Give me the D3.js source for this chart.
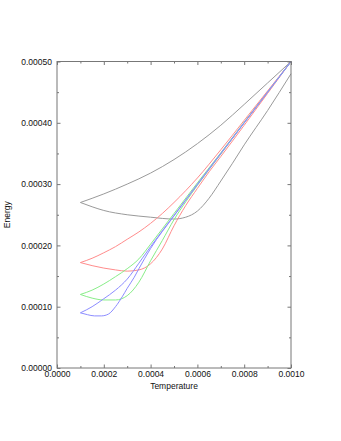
<!DOCTYPE html>
<html>
<head>
<meta charset="utf-8">
<script src="https://cdn.jsdelivr.net/npm/d3@7"></script>
<style>
  html, body { margin: 0; padding: 0; background: #fff; }
  svg { display: block; }
  .axis text { font-family: "Liberation Sans", Arial, Helvetica, sans-serif; font-size: 8.5px; fill: #111; }
  .axis path { display: none; }
  .axis line { stroke: #777; stroke-width: 1; }
  .label { font-family: "Liberation Sans", Arial, Helvetica, sans-serif; font-size: 8.5px; fill: #111; }
</style>
</head>
<body>
<svg id="chart" width="341" height="441"></svg>
<script>
// ─── Data (Temperature, Energy) ───
const xMajor = [0, 0.0002, 0.0004, 0.0006, 0.0008, 0.0010];
const xMinor = [0.0001, 0.0003, 0.0005, 0.0007, 0.0009];
const yMajor = [0, 0.0001, 0.0002, 0.0003, 0.0004, 0.0005];
const yMinor = [0.00005, 0.00015, 0.00025, 0.00035, 0.00045];

const grayUpper = [[0.0001,0.000270],[0.0002,0.000284],[0.0003,0.000300],[0.0004,0.000318],[0.0005,0.000340],
  [0.0006,0.000366],[0.0007,0.000396],[0.0008,0.000430],[0.0009,0.000465],[0.0010,0.000500]];
const grayLower = [[0.0001,0.000270],[0.00015,0.000263],[0.0002,0.000257],[0.0003,0.000250],[0.0004,0.000246],
  [0.00045,0.000244],[0.0005,0.000243],[0.00055,0.000246],[0.0006,0.000256],[0.00065,0.000277],[0.0007,0.000305],
  [0.00075,0.000334],[0.0008,0.000364],[0.0009,0.000420],[0.0010,0.000480]];

const redUpper = [[0.0001,0.000172],[0.00015,0.000179],[0.0002,0.000188],[0.00025,0.000198],[0.0003,0.000210],
  [0.00035,0.000222],[0.0004,0.000236],[0.00045,0.000252],[0.0005,0.000270],[0.0006,0.000310],[0.0007,0.000356],
  [0.0008,0.000404],[0.0009,0.000452],[0.0010,0.000500]];
const redLower = [[0.0001,0.000172],[0.00015,0.000167],[0.0002,0.000163],[0.00025,0.000160],[0.0003,0.000158],
  [0.00035,0.000160],[0.0004,0.000170],[0.00045,0.000194],[0.0005,0.000232],[0.00055,0.000265],[0.0006,0.000293],
  [0.00065,0.000320],[0.0007,0.000345],[0.0008,0.000396],[0.0009,0.000448],[0.0010,0.000500]];

const greenUpper = [[0.0001,0.000120],[0.00015,0.000127],[0.0002,0.000137],[0.00025,0.000149],[0.0003,0.000162],
  [0.00035,0.000178],[0.0004,0.000202],[0.00045,0.000227],[0.0005,0.000252],[0.0006,0.000302],[0.0007,0.000351],
  [0.0008,0.000401],[0.0009,0.000450],[0.0010,0.000500]];
const greenLower = [[0.0001,0.000120],[0.00015,0.000114],[0.0002,0.000111],[0.00025,0.000111],[0.0003,0.000118],
  [0.00035,0.000140],[0.0004,0.000175],[0.00045,0.000208],[0.0005,0.000242],[0.00055,0.000271],[0.0006,0.000298],
  [0.0007,0.000349],[0.0008,0.000400],[0.0009,0.000450],[0.0010,0.000500]];

const blueUpper = [[0.0001,0.000090],[0.00015,0.000100],[0.0002,0.000113],[0.00025,0.000127],[0.0003,0.000145],
  [0.00035,0.000171],[0.0004,0.000198],[0.0005,0.000249],[0.0006,0.000300],[0.0008,0.000400],[0.0010,0.000500]];
const blueLower = [[0.0001,0.000090],[0.00013,0.000087],[0.00016,0.000085],[0.00019,0.000085],[0.00022,0.000088],
  [0.00025,0.000100],[0.00028,0.000117],[0.0003,0.000130],[0.00033,0.000148],[0.00035,0.000162],[0.0004,0.000195],
  [0.0005,0.000248],[0.0006,0.000299],[0.0008,0.000400],[0.0010,0.000500]];

const series = [
  { pts: grayUpper,  color: '#9a9a9a' },
  { pts: grayLower,  color: '#9a9a9a' },
  { pts: redUpper,   color: '#ff8c8c' },
  { pts: redLower,   color: '#ff8c8c' },
  { pts: greenUpper, color: '#88ee88' },
  { pts: greenLower, color: '#88ee88' },
  { pts: blueUpper,  color: '#8c8cff' },
  { pts: blueLower,  color: '#8c8cff' }
];

// ─── Layout ─────────────────────────────────
const L = 57, R = 291, T = 61.5, B = 368;
const svg = d3.select('#chart');
svg.append('rect').attr('width', 341).attr('height', 441).attr('fill', '#fff');

const x = d3.scaleLinear().domain([0, 0.001]).range([L, R]);
const y = d3.scaleLinear().domain([0, 0.0005]).range([B, T]);

// ─── Curves ─────────────────────────────────
const line = d3.line().x(d => x(d[0])).y(d => y(d[1])).curve(d3.curveMonotoneX);
svg.append('g').selectAll('path')
  .data(series)
  .enter().append('path')
    .attr('d', d => line(d.pts))
    .attr('fill', 'none')
    .attr('stroke', d => d.color)
    .attr('stroke-width', 1);

// ─── Axes ───────────────────────────────────
function axis(gen, tr) {
  return svg.append('g').attr('class', 'axis').attr('transform', tr).call(gen);
}
// bottom
axis(d3.axisBottom(x).tickValues(xMajor).tickSize(-3.5).tickPadding(3).tickFormat(d3.format('.4f')), `translate(0,${B})`);
axis(d3.axisBottom(x).tickValues(xMinor).tickSize(-2).tickFormat(''), `translate(0,${B})`);
// top
axis(d3.axisTop(x).tickValues(xMajor).tickSize(-3.5).tickFormat(''), `translate(0,${T})`);
axis(d3.axisTop(x).tickValues(xMinor).tickSize(-2).tickFormat(''), `translate(0,${T})`);
// left
axis(d3.axisLeft(y).tickValues(yMajor).tickSize(-3.5).tickPadding(5).tickFormat(d3.format('.5f')), `translate(${L},0)`);
axis(d3.axisLeft(y).tickValues(yMinor).tickSize(-2).tickFormat(''), `translate(${L},0)`);
// right
axis(d3.axisRight(y).tickValues(yMajor).tickSize(-3.5).tickFormat(''), `translate(${R},0)`);
axis(d3.axisRight(y).tickValues(yMinor).tickSize(-2).tickFormat(''), `translate(${R},0)`);

// frame
svg.append('rect')
  .attr('x', L).attr('y', T).attr('width', R - L).attr('height', B - T)
  .attr('fill', 'none').attr('stroke', '#777').attr('stroke-width', 1);

// ─── Labels ─────────────────────────────────
svg.append('text').attr('class', 'label')
  .attr('x', (L + R) / 2).attr('y', 389)
  .attr('text-anchor', 'middle').text('Temperature');
svg.append('text').attr('class', 'label')
  .attr('transform', `translate(10,${(T + B) / 2}) rotate(-90)`)
  .attr('text-anchor', 'middle').text('Energy');
</script>
</body>
</html>
